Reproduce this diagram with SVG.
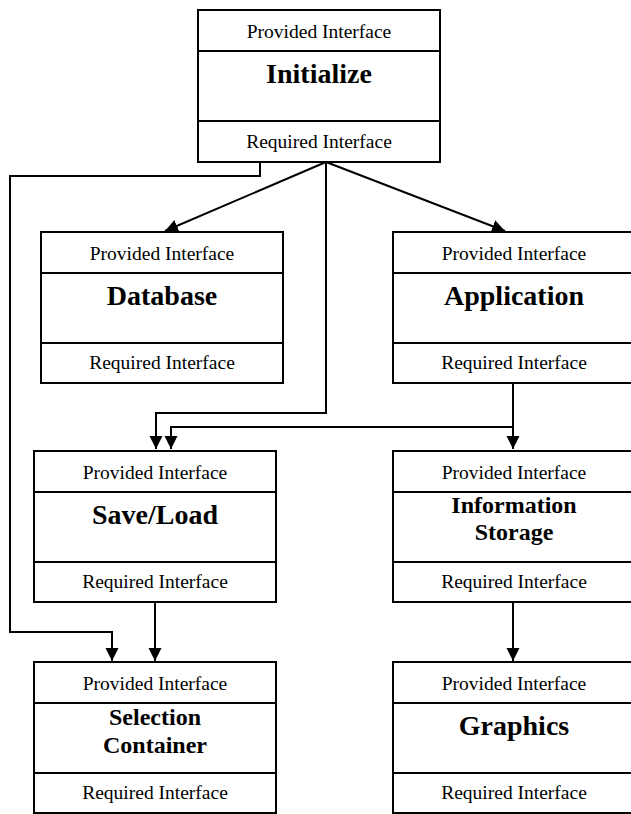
<svg xmlns="http://www.w3.org/2000/svg" width="631" height="814" viewBox="0 0 631 814">
<style>
text{font-family:'Liberation Serif','DejaVu Serif',serif;fill:#000;text-anchor:middle}
.box{fill:#fff;stroke:#000;stroke-width:2}
.div{stroke:#000;stroke-width:2}
.if{font-size:19.5px}
.t1{font-size:28px;font-weight:bold}
.t2{font-size:24px;font-weight:bold}
.con{fill:none;stroke:#000;stroke-width:2}
</style>
<defs>
<marker id="arr" markerUnits="userSpaceOnUse" markerWidth="14" markerHeight="14" viewBox="0 0 14 14" refX="13" refY="6.5" orient="auto">
<path d="M0,0 L13,6.5 L0,13 z" fill="#000"/>
</marker>
</defs>
<rect width="631" height="814" fill="#fff"/>
<g id="connectors">
<path class="con" d="M260,162 V176 H10 V632 H112 V661" marker-end="url(#arr)"/>
<path class="con" d="M326,162 L165,231" marker-end="url(#arr)"/>
<path class="con" d="M326,162 L505,231" marker-end="url(#arr)"/>
<path class="con" d="M326,162 V413 H156 V449" marker-end="url(#arr)"/>
<path class="con" d="M513,383 V449" marker-end="url(#arr)"/>
<path class="con" d="M513,427 H171 V449" marker-end="url(#arr)"/>
<path class="con" d="M155,602 V661" marker-end="url(#arr)"/>
<path class="con" d="M513,602 V661" marker-end="url(#arr)"/>
</g>
<g id="initialize">
<rect class="box" x="198" y="10" width="242" height="152"/>
<line class="div" x1="198" y1="51" x2="440" y2="51"/>
<line class="div" x1="198" y1="121" x2="440" y2="121"/>
<text class="if" x="319" y="38">Provided Interface</text>
<text class="t1" x="319" y="83">Initialize</text>
<text class="if" x="319" y="148">Required Interface</text>
</g>
<g id="database">
<rect class="box" x="41" y="232" width="242" height="151"/>
<line class="div" x1="41" y1="273" x2="283" y2="273"/>
<line class="div" x1="41" y1="343" x2="283" y2="343"/>
<text class="if" x="162" y="260">Provided Interface</text>
<text class="t1" x="162" y="305">Database</text>
<text class="if" x="162" y="369">Required Interface</text>
</g>
<g id="application">
<rect class="box" x="393" y="232" width="242" height="151"/>
<line class="div" x1="393" y1="273" x2="635" y2="273"/>
<line class="div" x1="393" y1="343" x2="635" y2="343"/>
<text class="if" x="514" y="260">Provided Interface</text>
<text class="t1" x="514" y="305">Application</text>
<text class="if" x="514" y="369">Required Interface</text>
</g>
<g id="saveload">
<rect class="box" x="34" y="451" width="242" height="151"/>
<line class="div" x1="34" y1="492" x2="276" y2="492"/>
<line class="div" x1="34" y1="562" x2="276" y2="562"/>
<text class="if" x="155" y="479">Provided Interface</text>
<text class="t1" x="155" y="524">Save/Load</text>
<text class="if" x="155" y="588">Required Interface</text>
</g>
<g id="informationstorage">
<rect class="box" x="393" y="451" width="242" height="151"/>
<line class="div" x1="393" y1="492" x2="635" y2="492"/>
<line class="div" x1="393" y1="562" x2="635" y2="562"/>
<text class="if" x="514" y="479">Provided Interface</text>
<text class="t2" x="514" y="513">Information</text>
<text class="t2" x="514" y="540">Storage</text>
<text class="if" x="514" y="588">Required Interface</text>
</g>
<g id="selectioncontainer">
<rect class="box" x="34" y="662" width="242" height="151"/>
<line class="div" x1="34" y1="703" x2="276" y2="703"/>
<line class="div" x1="34" y1="773" x2="276" y2="773"/>
<text class="if" x="155" y="690">Provided Interface</text>
<text class="t2" x="155" y="725">Selection</text>
<text class="t2" x="155" y="753">Container</text>
<text class="if" x="155" y="799">Required Interface</text>
</g>
<g id="graphics">
<rect class="box" x="393" y="662" width="242" height="151"/>
<line class="div" x1="393" y1="703" x2="635" y2="703"/>
<line class="div" x1="393" y1="773" x2="635" y2="773"/>
<text class="if" x="514" y="690">Provided Interface</text>
<text class="t1" x="514" y="735">Graphics</text>
<text class="if" x="514" y="799">Required Interface</text>
</g>
</svg>
